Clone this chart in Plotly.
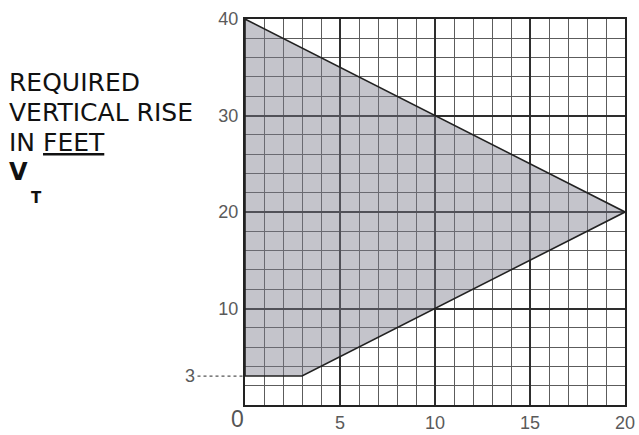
import plotly.graph_objects as go

# shaded region (run in feet vs required vertical rise in feet)
region_x = [0, 0, 20, 3, 0]
region_y = [3, 40, 20, 3, 3]

x_ticks = [5, 10, 15, 20]
y_ticks = [10, 20, 30, 40]
floor_rise = 3

label_lines = ["REQUIRED", "VERTICAL RISE", "IN <u>FEET</u>"]

fig = go.Figure()
fig.add_trace(go.Scatter(
    x=region_x, y=region_y, mode="lines", fill="toself",
    fillcolor="rgba(125,125,140,0.45)",
    line=dict(color="#222222", width=1.6),
    hoverinfo="skip", showlegend=False))

grid_major = "#2e2e2e"
grid_minor = "#5c5c5c"
tick_font = dict(family="Liberation Sans, Arial", size=18, color="#5a5a5a")

fig.update_xaxes(
    range=[0, 20], tickvals=x_ticks, showgrid=True, gridcolor=grid_major, gridwidth=2,
    minor=dict(dtick=1, showgrid=True, gridcolor=grid_minor, gridwidth=1),
    showline=True, linecolor="#222222", linewidth=2, mirror=True,
    zeroline=False, ticks="", ticklabelstandoff=0, ticklabeloverflow="allow",
    automargin=False, tickfont=tick_font, fixedrange=True)
fig.update_yaxes(
    range=[0, 40], tickvals=y_ticks, showgrid=True, gridcolor=grid_major, gridwidth=2,
    minor=dict(dtick=2, showgrid=True, gridcolor=grid_minor, gridwidth=1),
    showline=True, linecolor="#222222", linewidth=2, mirror=True,
    zeroline=False, ticks="", ticklabelstandoff=1, ticklabeloverflow="allow",
    automargin=False, tickfont=tick_font, fixedrange=True)

# dashed guide to the "3" label
fig.add_shape(type="line", xref="paper", yref="y", x0=-0.125, x1=0,
              y0=floor_rise, y1=floor_rise,
              line=dict(color="#555555", width=1.3, dash="dot"))
fig.add_annotation(xref="paper", yref="y", x=-0.145, y=floor_rise, text=str(floor_rise),
                   showarrow=False, xanchor="center", font=tick_font)
fig.add_annotation(xref="paper", yref="paper", x=-0.02, y=-0.035, text="0",
                   showarrow=False, xanchor="center", yanchor="middle",
                   font=dict(family="Liberation Sans, Arial", size=23, color="#555555"))

label_font = dict(family="DejaVu Sans, Verdana", size=25, color="#111111")
for i, line in enumerate(label_lines):
    fig.add_annotation(xref="paper", yref="paper", x=-0.627, y=0.835 - i * 0.078,
                       text=line, showarrow=False, xanchor="left", yanchor="middle",
                       font=label_font)
fig.add_annotation(xref="paper", yref="paper", x=-0.627, y=0.604,
                   text="<b>V</b>", showarrow=False, xanchor="left", yanchor="middle",
                   font=dict(family="DejaVu Sans, Verdana", size=24, color="#111111"))
fig.add_annotation(xref="paper", yref="paper", x=-0.569, y=0.537,
                   text="<b>T</b>", showarrow=False, xanchor="left", yanchor="middle",
                   font=dict(family="DejaVu Sans, Verdana", size=15, color="#111111"))

fig.update_layout(
    width=639, height=435,
    margin=dict(l=245, r=14, t=19, b=30),
    paper_bgcolor="white", plot_bgcolor="white",
    showlegend=False)

# drop the default body margin so the figure fills the window without scrollbars
fig.write_html("out.html", config={"displayModeBar": False},
               post_script="document.body.style.margin='0';")
